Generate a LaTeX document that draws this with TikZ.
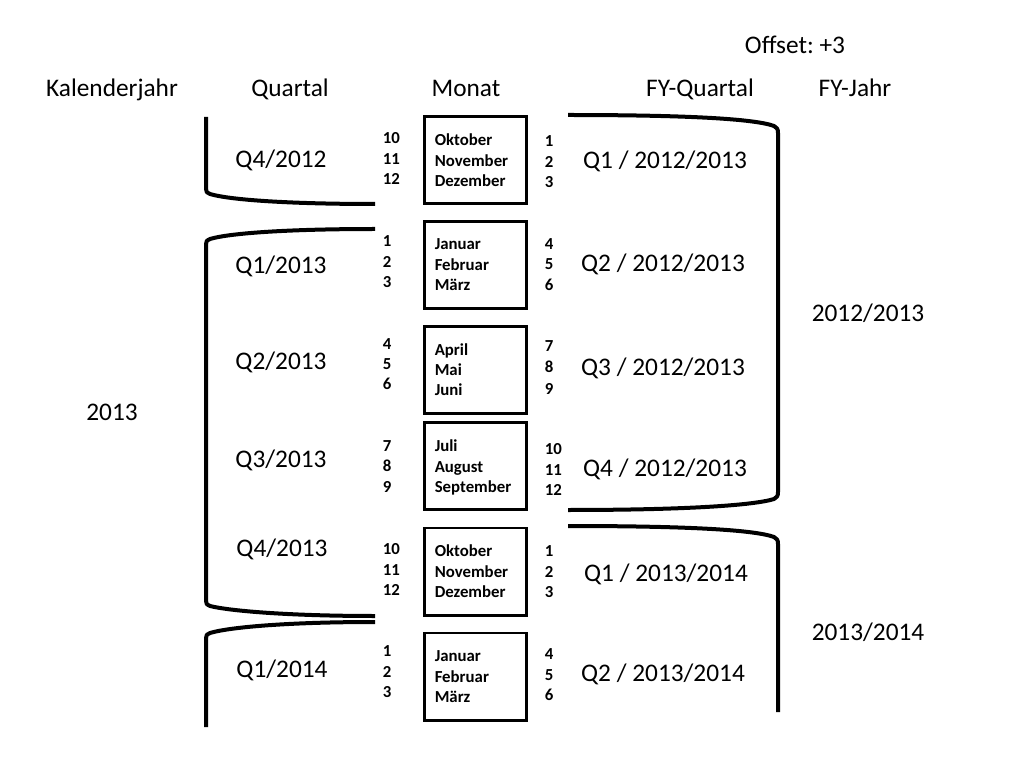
\documentclass[tikz,border=0pt]{standalone}
\usepackage{fontspec}
\setmainfont{Carlito}
\frenchspacing
\begin{document}
\begin{tikzpicture}[x=0.75pt,y=-0.75pt,
  big/.style={font=\fontsize{19}{23}\selectfont, inner sep=0, anchor=base},
  small/.style={font=\bfseries\fontsize{12.6}{15}\selectfont, inner sep=0, anchor=base west},
  monthbox/.style={draw, line width=1.9pt, minimum width=76.5pt, minimum height=65.6pt, inner sep=0},
  brace/.style={line width=3pt, line cap=butt, line join=round}]
\useasboundingbox (0,0) rectangle (1024,766);
% headers
\node[big] (hOffset) at (795,54) {Offset:\ +3};
\node[big] (hKal) at (112,97) {Kalenderjahr};
\node[big] (hQ) at (290,97) {Quartal};
\node[big] (hM) at (466,97) {Monat};
\node[big] (hFYQ) at (700,97) {FY-Quartal};
\node[big] (hFYJ) at (855,97) {FY-Jahr};
% month boxes
\node[monthbox] (b1) at (475.5,160) {};
\node[monthbox] (b2) at (475.5,265) {};
\node[monthbox] (b3) at (475.5,370) {};
\node[monthbox] (b4) at (475.5,466) {};
\node[monthbox] (b5) at (475.5,571.5) {};
\node[monthbox] (b6) at (475.5,676.5) {};
% months
\foreach \t/\y [count=\i] in {Oktober/145.5, November/166.5, Dezember/186.5,
  Januar/249.5, Februar/270.5, März/290.5,
  April/355.5, Mai/375.5, Juni/395.5,
  Juli/451.7, August/472, September/492.7,
  Oktober/556.7, November/577.3, Dezember/597.7,
  Januar/661.7, Februar/682.3, März/702.7}
  \node[small] (m\i) at (434.5,\y) {\t};
% left numbers
\foreach \t/\y [count=\i] in {10/144, 11/164.5, 12/185,
  1/246.5, 2/267.5, 3/287.5,
  4/349.5, 5/369.5, 6/389.5,
  7/451.7, 8/471.7, 9/492.7,
  10/554.3, 11/575, 12/595.7,
  1/656.7, 2/677.3, 3/697.7}
  \node[small] (ln\i) at (382.5,\y) {\t};
% right numbers
\foreach \t/\y [count=\i] in {1/147, 2/167.5, 3/188,
  4/249.5, 5/269.5, 6/290.5,
  7/351.5, 8/372.5, 9/394.5,
  10/454.3, 11/475, 12/495.7,
  1/556.7, 2/577.3, 3/597.7,
  4/659.3, 5/680, 6/700}
  \node[small] (rn\i) at (544.5,\y) {\t};
% calendar quarters
\node[big] (q1) at (281,168) {Q4/2012};
\node[big] (q2) at (281,274) {Q1/2013};
\node[big] (q3) at (281,369) {Q2/2013};
\node[big] (q4) at (281,467) {Q3/2013};
\node[big] (q5) at (282,556) {Q4/2013};
\node[big] (q6) at (282,677) {Q1/2014};
% FY quarters
\node[big] (f1) at (665,169) {Q1 / 2012/2013};
\node[big] (f2) at (663,272) {Q2 / 2012/2013};
\node[big] (f3) at (663,376) {Q3 / 2012/2013};
\node[big] (f4) at (665,476) {Q4 / 2012/2013};
\node[big] (f5) at (666,581) {Q1 / 2013/2014};
\node[big] (f6) at (663,681) {Q2 / 2013/2014};
% years
\node[big] (y2013) at (112,421) {2013};
\node[big] (fy1) at (868,322) {2012/2013};
\node[big] (fy2) at (868,640) {2013/2014};
% brackets
\draw[brace] (206,117) -- (206,189) .. controls (206,192) and (207,193) .. (210,194)
  .. controls (230,200) and (290,204) .. (375,204);
\draw[brace] (375,229) .. controls (290,229) and (230,233) .. (210,239)
  .. controls (207,240) and (206,241) .. (206,244) -- (206,601)
  .. controls (206,604) and (207,605) .. (210,606)
  .. controls (230,611) and (290,616) .. (375,616);
\draw[brace] (375,622) .. controls (290,622) and (230,627) .. (210,633)
  .. controls (207,634) and (206,635) .. (206,638) -- (206,727);
\draw[brace] (568,115) .. controls (690,115) and (755,119) .. (774,126)
  .. controls (777,127.5) and (778,129) .. (778,133) -- (778,492)
  .. controls (778,496) and (777,497.5) .. (774,499)
  .. controls (755,505) and (690,510) .. (568,510);
\draw[brace] (568,526) .. controls (690,526) and (755,530) .. (774,537)
  .. controls (777,538.5) and (778,540) .. (778,544) -- (778,712);
\end{tikzpicture}
\end{document}
